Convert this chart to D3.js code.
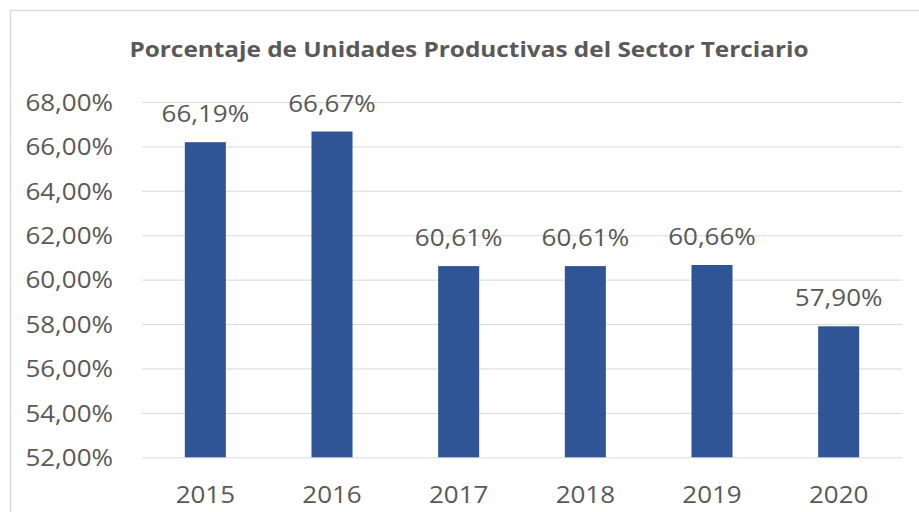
<!DOCTYPE html>
<html>
<head>
<meta charset="utf-8">
<script src="https://cdn.jsdelivr.net/npm/d3@7"></script>
<style>
  html, body { margin: 0; padding: 0; background: #ffffff; }
  svg { display: block; }
  text { font-family: "Open Sans", "Noto Sans", sans-serif; fill: #595959; }
</style>
</head>
<body>
<svg id="chart" width="919" height="512"></svg>
<script>
// Porcentaje de unidades productivas del sector terciario, 2015-2020
const years = ["2015", "2016", "2017", "2018", "2019", "2020"];
const shares = [66.19, 66.67, 60.61, 60.61, 60.66, 57.90];
const yTicks = [52, 54, 56, 58, 60, 62, 64, 66, 68];
const title = "Porcentaje de Unidades Productivas del Sector Terciario";

const svg = d3.select("#chart");
const W = 919, H = 512;
const plot = { left: 142, right: 902, top: 102, bottom: 457.3 };
const LABEL_STRETCH = 1.13;

const fmt = v => v.toFixed(2).replace(".", ",") + "%";

// widen glyphs horizontally around each text's own anchor point
function stretch(sel, sx) {
  sel.each(function () {
    const t = d3.select(this);
    const ax = +t.attr("x") || 0, ay = +t.attr("y") || 0;
    t.attr("transform", `translate(${ax},${ay}) scale(${sx},1) translate(${-ax},${-ay})`);
  });
}

// chart frame
svg.append("rect")
  .attr("x", 10.5).attr("y", 10.5)
  .attr("width", W + 20).attr("height", H + 20)
  .attr("fill", "#ffffff")
  .attr("stroke", "#d9d9d9")
  .attr("stroke-width", 1.5);

const x = d3.scaleBand()
  .domain(years)
  .range([plot.left, plot.right])
  .paddingInner(0.676)
  .paddingOuter(0.338);

const y = d3.scaleLinear()
  .domain([52, 68])
  .range([plot.bottom, plot.top]);

// horizontal gridlines and percentage ticks
const yAxis = d3.axisLeft(y)
  .tickValues(yTicks)
  .tickSize(-(plot.right - plot.left))
  .tickFormat(fmt)
  .tickPadding(29);

const gy = svg.append("g")
  .attr("transform", `translate(${plot.left},0)`)
  .call(yAxis);
gy.select(".domain").remove();
gy.selectAll(".tick line").attr("stroke", "#d9d9d9").attr("stroke-width", 1);
gy.selectAll(".tick text")
  .attr("font-size", 23)
  .attr("fill", "#595959")
  .attr("font-family", "'Open Sans', sans-serif")
  .attr("dy", "0.36em")
  .call(stretch, LABEL_STRETCH);

// bars
const rows = years.map((yr, i) => ({ yr, v: shares[i] }));
svg.append("g").selectAll("rect")
  .data(rows)
  .join("rect")
  .attr("x", d => x(d.yr))
  .attr("y", d => y(d.v))
  .attr("width", x.bandwidth())
  .attr("height", d => y(52) - y(d.v))
  .attr("fill", "#2f5597");

// value labels
svg.append("g").selectAll("text")
  .data(rows)
  .join("text")
  .attr("x", d => x(d.yr) + x.bandwidth() / 2)
  .attr("y", d => y(d.v) - 20)
  .attr("text-anchor", "middle")
  .attr("font-size", 23)
  .text(d => fmt(d.v))
  .call(stretch, LABEL_STRETCH);

// category axis
const xAxis = d3.axisBottom(x).tickSize(0).tickPadding(0);
const gx = svg.append("g")
  .attr("transform", `translate(0,${plot.bottom})`)
  .call(xAxis);
gx.select(".domain").remove();
gx.selectAll(".tick text")
  .attr("font-size", 23)
  .attr("fill", "#595959")
  .attr("font-family", "'Open Sans', sans-serif")
  .attr("dy", 0)
  .attr("y", 46)
  .call(stretch, LABEL_STRETCH);

// title
svg.append("text")
  .attr("x", 469)
  .attr("y", 57)
  .attr("text-anchor", "middle")
  .attr("font-size", 21)
  .attr("font-weight", "bold")
  .text(title)
  .call(stretch, 1.16);
</script>
</body>
</html>
